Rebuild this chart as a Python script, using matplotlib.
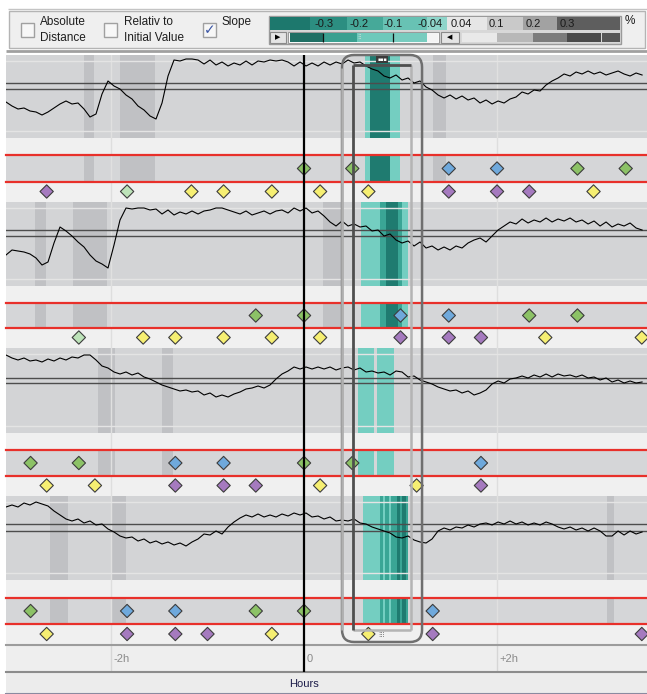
import numpy as np
import matplotlib
matplotlib.use("Agg")
import matplotlib.pyplot as plt
from matplotlib.patches import Rectangle, FancyBboxPatch

plt.rcParams['font.family'] = ['Liberation Sans', 'DejaVu Sans']

# ======================= DATA =======================
# visible time window and sampled span (hours relative to the event at 0)
X_MIN, X_MAX = -3.088, 3.554
SAMPLE_START, SAMPLE_END = -3.088, 3.503

# four signal traces (offset below the panel top)
series_1 = [47, 51, 54, 53, 56, 57, 60, 57, 53, 49,
            46, 49, 48, 54, 62, 59, 39, 26, 31, 34,
            40, 44, 51, 55, 61, 64, 48, 21, 5, 6,
            4, 4, 5, 9, 5, 10, 7, 11, 8, 10,
            6, 10, 6, 7, 5, 6, 5, 7, 11, 7,
            11, 8, 11, 7, 10, 7, 9, 5, 8, 7,
            11, 14, 16, 21, 23, 20, 25, 23, 28, 26,
            32, 35, 40, 43, 40, 44, 41, 45, 43, 48,
            45, 49, 46, 48, 44, 42, 37, 39, 35, 36,
            30, 26, 23, 19, 21, 17, 19, 16, 19, 17,
            20, 18, 16, 19, 21, 18, 20]
series_2 = [53, 48, 49, 50, 52, 56, 63, 60, 41, 25,
            29, 34, 40, 45, 53, 59, 62, 66, 43, 18,
            6, 7, 6, 6, 8, 7, 12, 8, 13, 10,
            12, 9, 12, 9, 8, 6, 6, 8, 10, 12,
            9, 13, 11, 9, 12, 9, 8, 11, 6, 9,
            6, 11, 9, 14, 20, 24, 19, 24, 22, 25,
            24, 29, 28, 34, 32, 38, 41, 39, 44, 40,
            46, 44, 48, 45, 48, 44, 46, 41, 38, 36,
            40, 34, 28, 24, 20, 22, 17, 21, 18, 20,
            16, 20, 17, 19, 16, 20, 18, 22, 19, 24,
            20, 25, 22, 24, 21, 26, 28]
series_3 = [7, 10, 12, 10, 13, 12, 14, 11, 13, 10,
            12, 9, 10, 7, 7, 12, 18, 20, 24, 26,
            24, 27, 25, 29, 31, 34, 37, 39, 41, 43,
            42, 44, 43, 47, 45, 49, 47, 49, 46, 44,
            41, 40, 38, 40, 37, 31, 26, 23, 19, 21,
            19, 21, 19, 21, 19, 22, 20, 19, 22, 20,
            24, 23, 25, 24, 27, 23, 24, 29, 28, 32,
            34, 36, 39, 41, 43, 42, 45, 43, 47, 45,
            42, 36, 33, 35, 31, 30, 28, 30, 27, 29,
            26, 29, 26, 28, 27, 29, 27, 30, 29, 32,
            30, 34, 32, 35, 33, 35, 34]
series_4 = [11, 9, 11, 7, 9, 6, 8, 10, 15, 19,
            23, 25, 23, 27, 25, 29, 28, 33, 36, 40,
            42, 41, 45, 43, 47, 45, 48, 46, 49, 47,
            50, 46, 43, 38, 39, 35, 38, 31, 26, 22,
            19, 21, 18, 21, 19, 21, 18, 20, 17, 19,
            17, 21, 20, 23, 21, 25, 24, 25, 23, 27,
            28, 31, 33, 35, 37, 41, 42, 40, 44, 46,
            47, 43, 35, 32, 34, 31, 32, 29, 31, 28,
            27, 29, 26, 28, 25, 28, 26, 29, 27, 29,
            26, 28, 31, 33, 31, 34, 32, 35, 32, 35,
            40, 40, 35, 39, 35, 38, 36]

thresholds_1 = [28, 34]
thresholds_2 = [28, 34]
thresholds_3 = [30, 35]
thresholds_4 = [28, 35]

# darker gray time bands (hours)
bands_1 = [(-2.280, -2.176), (-1.907, -1.544), (1.337, 1.472)]
bands_2 = [(-2.788, -2.674), (-2.394, -2.041), (0.197, 0.404)]
bands_3 = [(-2.135, -1.959), (-1.472, -1.358)]
bands_4 = [(-2.632, -2.446), (-1.990, -1.845), (3.140, 3.212)]

# slope highlight (hours, shade)
teal_1 = [(0.632, 0.995, 'L'), (0.684, 0.891, 'D')]
teal_2 = [(0.591, 1.078, 'L'), (0.788, 0.850, 'M'), (0.850, 0.974, 'D'), (0.974, 1.016, 'M')]
teal_3 = [(0.560, 0.725, 'L'), (0.756, 0.933, 'L')]
teal_4 = [(0.611, 1.078, 'L'), (0.788, 0.819, 'M'), (0.839, 0.881, 'M'), (0.902, 0.964, 'M'),
          (0.964, 0.995, 'D'), (0.995, 1.016, 'M'), (1.016, 1.057, 'D'), (1.057, 1.078, 'M')]

# events: (10-minute slot, kind)
events_gray_1 = [(0, 'green'), (3, 'green'), (9, 'blue'), (12, 'blue'), (17, 'green'), (20, 'green')]
events_white_1 = [(-16, 'purple'), (-11, 'mint'), (-7, 'yellow'), (-5, 'yellow'), (-2, 'yellow'),
                  (1, 'yellow'), (4, 'yellow'), (9, 'purple'), (12, 'purple'), (14, 'purple'), (18, 'yellow')]
events_gray_2 = [(-3, 'green'), (0, 'green'), (6, 'blue'), (9, 'blue'), (14, 'green'), (17, 'green')]
events_white_2 = [(-14, 'mint'), (-10, 'yellow'), (-8, 'yellow'), (-5, 'yellow'), (-2, 'yellow'),
                  (1, 'yellow'), (6, 'purple'), (9, 'purple'), (11, 'purple'), (15, 'yellow'), (21, 'yellow')]
events_gray_3 = [(-17, 'green'), (-14, 'green'), (-8, 'blue'), (-5, 'blue'), (0, 'green'), (3, 'green'), (11, 'blue')]
events_white_3 = [(-16, 'yellow'), (-13, 'yellow'), (-8, 'purple'), (-5, 'purple'), (-3, 'purple'),
                  (1, 'yellow'), (7, 'yellow'), (11, 'purple')]
events_gray_4 = [(-17, 'green'), (-11, 'blue'), (-8, 'blue'), (-3, 'green'), (0, 'green'), (8, 'blue')]
events_white_4 = [(-16, 'yellow'), (-11, 'purple'), (-8, 'purple'), (-6, 'purple'), (-2, 'yellow'),
                  (4, 'yellow'), (8, 'purple'), (21, 'purple')]

tick_hours = [-2, 0, 2]
tick_labels = ['-2h', '0', '+2h']
x_label = 'Hours'
event_time = 0.0
selection_outer = (0.394, 1.223)
selection_inner = (0.508, 1.109)

checkbox_labels = ['Absolute\nDistance', 'Relativ to\nInitial Value', 'Slope']
checkbox_checked = [False, False, True]
scale_labels = ['-0.3', '-0.2', '-0.1', '-0.04', '0.04', '0.1', '0.2', '0.3']
scale_unit = '%'

# ======================= STYLE / LAYOUT =======================
W, H = 647, 694
EVENT_COLORS = {'green': '#8cc266', 'mint': '#bde3b9', 'blue': '#6fa9dc',
                'purple': '#a57abf', 'yellow': '#f6ef72'}
TEAL = {'L': '#74cec1', 'M': '#3aa595', 'D': '#1f7b70'}
PX_L, PX_R = 6, 647
PANEL_TOP = [55, 202, 348, 496]
LINE_BOTTOM = [138, 286, 433, 580]
RED_TOP = [155, 303, 450, 598]
RED_BOTTOM = [182, 328, 476, 624]
ROW_END = [201, 347, 495, 644]

fig = plt.figure(figsize=(W / 100, H / 100), dpi=100)
fig.patch.set_facecolor('white')


def px_axes(x0, y0, x1, y1, fc='none', z=1):
    ax = fig.add_axes([x0 / W, 1 - y1 / H, (x1 - x0) / W, (y1 - y0) / H], zorder=z)
    if fc == 'none':
        ax.patch.set_visible(False)
    else:
        ax.set_facecolor(fc)
    for s in ax.spines.values():
        s.set_visible(False)
    ax.set_xticks([])
    ax.set_yticks([])
    return ax


# background of plot area
bg = px_axes(PX_L, 55, PX_R, 645, fc='#f0f0f0', z=0)
bg.set_xlim(X_MIN, X_MAX)
for t in tick_hours:
    if t != 0:
        bg.axvline(t, color='#dedede', lw=1)

series = [series_1, series_2, series_3, series_4]
thresholds = [thresholds_1, thresholds_2, thresholds_3, thresholds_4]
bands = [bands_1, bands_2, bands_3, bands_4]
teals = [teal_1, teal_2, teal_3, teal_4]
ev_gray = [events_gray_1, events_gray_2, events_gray_3, events_gray_4]
ev_white = [events_white_1, events_white_2, events_white_3, events_white_4]


def decorate(ax, i):
    for a, b in bands[i]:
        ax.axvspan(a, b, color='#c0c1c4', lw=0, zorder=0.5)
    for a, b, s in teals[i]:
        ax.axvspan(a, b, color=TEAL[s], lw=0, zorder=0.6)
    for t in tick_hours:
        if t != 0:
            ax.axvline(t, color='#e0e0e0', lw=1, zorder=0.55)


def diamonds(ax, events):
    xs = [s / 6 for s, _ in events]
    cs = [EVENT_COLORS[k] for _, k in events]
    ax.scatter(xs, np.zeros(len(xs)), marker='D', s=46, c=cs,
               edgecolors='#3c3c3c', linewidths=0.8, zorder=5, clip_on=False)


for i in range(4):
    top, lb = PANEL_TOP[i], LINE_BOTTOM[i]
    hgt = lb - top
    axl = px_axes(PX_L, top, PX_R, lb, fc='#d3d4d6', z=1)
    axl.set_xlim(X_MIN, X_MAX)
    axl.set_ylim(hgt, 0)
    decorate(axl, i)
    axl.axhline(6, color='#e4e4e4', lw=1, zorder=0.8)
    axl.axhline(hgt - 7, color='#e4e4e4', lw=1, zorder=0.8)
    for th in thresholds[i]:
        axl.axhline(th, color='#4d4d4d', lw=1, zorder=1)
    t = np.linspace(SAMPLE_START, SAMPLE_END, len(series[i]))
    axl.plot(t, series[i], color='black', lw=0.8, zorder=2)

    axr = px_axes(PX_L, RED_TOP[i], PX_R, RED_BOTTOM[i], fc='#d5d6d8', z=1)
    axr.set_xlim(X_MIN, X_MAX)
    axr.set_ylim(-1, 1)
    decorate(axr, i)
    for side in ('top', 'bottom'):
        axr.spines[side].set_visible(True)
        axr.spines[side].set_color('#e8302a')
        axr.spines[side].set_linewidth(1.6)
    diamonds(axr, ev_gray[i])

    axw = px_axes(PX_L, RED_BOTTOM[i], PX_R, ROW_END[i], z=1)
    axw.set_xlim(X_MIN, X_MAX)
    axw.set_ylim(-1, 1)
    diamonds(axw, ev_white[i])

# time axis band
axt = px_axes(PX_L, 645, PX_R, 672, fc='#eeeeee', z=1)
axt.set_xlim(X_MIN, X_MAX)
axt.spines['top'].set_visible(True)
axt.spines['top'].set_color('#9c9c9c')
axt.spines['top'].set_linewidth(1.5)
for t, lbl in zip(tick_hours, tick_labels):
    if t != 0:
        axt.axvline(t, color='#d6d6d6', lw=1)
    axt.annotate(lbl, (t, 0.5), xycoords=('data', 'axes fraction'), xytext=(2, 0),
                 textcoords='offset points', ha='left', va='center', fontsize=8, color='#8a8a8a')

axh = px_axes(PX_L, 672, PX_R, 694, fc='#ececec', z=1)
axh.set_xlim(X_MIN, X_MAX)
axh.spines['top'].set_visible(True)
axh.spines['top'].set_color('#8c8c8c')
axh.spines['top'].set_linewidth(1.5)
axh.spines['bottom'].set_visible(True)
axh.spines['bottom'].set_color('#8a8aa0')
axh.spines['bottom'].set_linewidth(1.5)
axh.text(event_time, 0.45, x_label, transform=axh.get_xaxis_transform(), ha='center', va='center',
         fontsize=8, color='#1d1d4a')

# overlay: event line and selection window
ov = px_axes(PX_L, 50, PX_R, 694, z=10)
ov.set_xlim(X_MIN, X_MAX)
ov.set_ylim(694, 50)
ov.vlines(event_time, 55, 672, color='black', lw=1.6, zorder=3)
x0, x1 = selection_outer
ov.add_patch(FancyBboxPatch((x0, 55), x1 - x0, 642 - 55,
                            boxstyle='round,pad=0,rounding_size=0.125', mutation_aspect=96.5,
                            fc='none', ec='#6f6f6f', lw=1.8, zorder=4))
ov.vlines(x0, 68, 630, color='#b0b0b0', lw=1.8, zorder=4.2)
i0, i1 = selection_inner
ov.vlines(i0, 65, 630, color='#4f4f4f', lw=2.0, zorder=4.5)
ov.hlines(65, i0, i1, color='#4f4f4f', lw=2.0, zorder=4.5)
ov.vlines(i1, 65, 630, color='#b4b4b4', lw=1.8, zorder=4.4)
ov.hlines(630, i0, i1, color='#b4b4b4', lw=1.8, zorder=4.4)
mid = (i0 + i1) / 2
ov.text(mid, 59.5, '▪▪▪', family='DejaVu Sans', fontsize=3.5, color='white', ha='center',
        va='center', zorder=6, bbox=dict(fc='#3a3a3a', ec='none', pad=0.8))
ov.text(mid, 635, '⁝⁝⁝', family='DejaVu Sans', fontsize=5, color='#555555', ha='center',
        va='center', zorder=6)

# ======================= TOOLBAR =======================
tb = px_axes(0, 0, W, 55, z=2)
tb.set_xlim(0, W)
tb.set_ylim(55, 0)
tb.hlines(9, 8, W, color='#c4c4c4', lw=1)
tb.add_patch(Rectangle((9, 11), 636, 37, fc='#efefef', ec='#b4b4b4', lw=1))
tb.hlines(51, PX_L, W, color='#a0a0a0', lw=2)

check_x = [21, 104, 203]
text_x = [40, 124, 222]
for cx, tx, lbl, chk in zip(check_x, text_x, checkbox_labels, checkbox_checked):
    tb.add_patch(Rectangle((cx, 23), 13, 14, fc='#f7f7f7', ec='#a0a0a0', lw=1))
    if chk:
        tb.text(cx + 6.5, 30.5, '✓', family='DejaVu Sans', fontsize=10, color='#3a55a4',
                ha='center', va='center', fontweight='bold')
    for j, line in enumerate(lbl.split('\n')):
        tb.text(tx, 22 + 16 * j, line, fontsize=8.5, color='#1e1e1e', ha='left', va='center')

# colour scale
top_strip = [(270, 310, '#1d786d'), (310, 347, '#2c8e81'), (347, 383, '#46a999'),
             (383, 427, '#68c2b4'), (427, 447, '#8ed5ca'), (447, 487, '#e6e6e6'),
             (487, 523, '#c9c9c9'), (523, 557, '#a2a2a2'), (557, 620, '#5e5e5e')]
tb.add_patch(Rectangle((269, 16), 352, 28, fc='#d8d8d8', ec='#9a9a9a', lw=1))
for a, b, c in top_strip:
    tb.add_patch(Rectangle((a, 17), b - a, 13, fc=c, ec='none'))
label_x = [324, 359, 393, 430, 461, 496, 533, 567]
for lx, lbl in zip(label_x, scale_labels):
    tb.text(lx, 24, lbl, fontsize=8, color='#1a1a1a', ha='center', va='center')
tb.text(630, 21, scale_unit, fontsize=8.5, color='#1a1a1a', ha='center', va='center')

bottom_strip = [(290, 323, '#1f6f64'), (323, 357, '#3aa090'), (357, 393, '#6ec9bb'),
                (393, 427, '#78ccbf'), (427, 438, '#f4f4f4'),
                (462, 497, '#e9e9e9'), (497, 533, '#b8b8b8'), (533, 567, '#7c7c7c'),
                (567, 601, '#4a4a4a'), (602, 620, '#565656')]
tb.add_patch(Rectangle((270, 32), 16, 11, fc='#e4e4e4', ec='#8a8a8a', lw=0.8))
tb.text(278, 37.5, '▶', family='DejaVu Sans', fontsize=5, color='black', ha='center', va='center')
tb.add_patch(Rectangle((288, 32), 151, 11, fc='white', ec='#9a9a9a', lw=0.8))
for a, b, c in bottom_strip:
    tb.add_patch(Rectangle((a, 33), b - a, 9, fc=c, ec='none'))
tb.vlines([323, 393], 33, 42, color='#111111', lw=0.9)
tb.text(360, 37.5, '⁝⁝', family='DejaVu Sans', fontsize=5, color='#dddddd', ha='center', va='center')
tb.add_patch(Rectangle((441, 32), 18, 11, fc='#e4e4e4', ec='#8a8a8a', lw=0.8))
tb.text(450, 37.5, '◀', family='DejaVu Sans', fontsize=5, color='black', ha='center', va='center')

fig.savefig('out.png', dpi=100, facecolor=fig.get_facecolor())
